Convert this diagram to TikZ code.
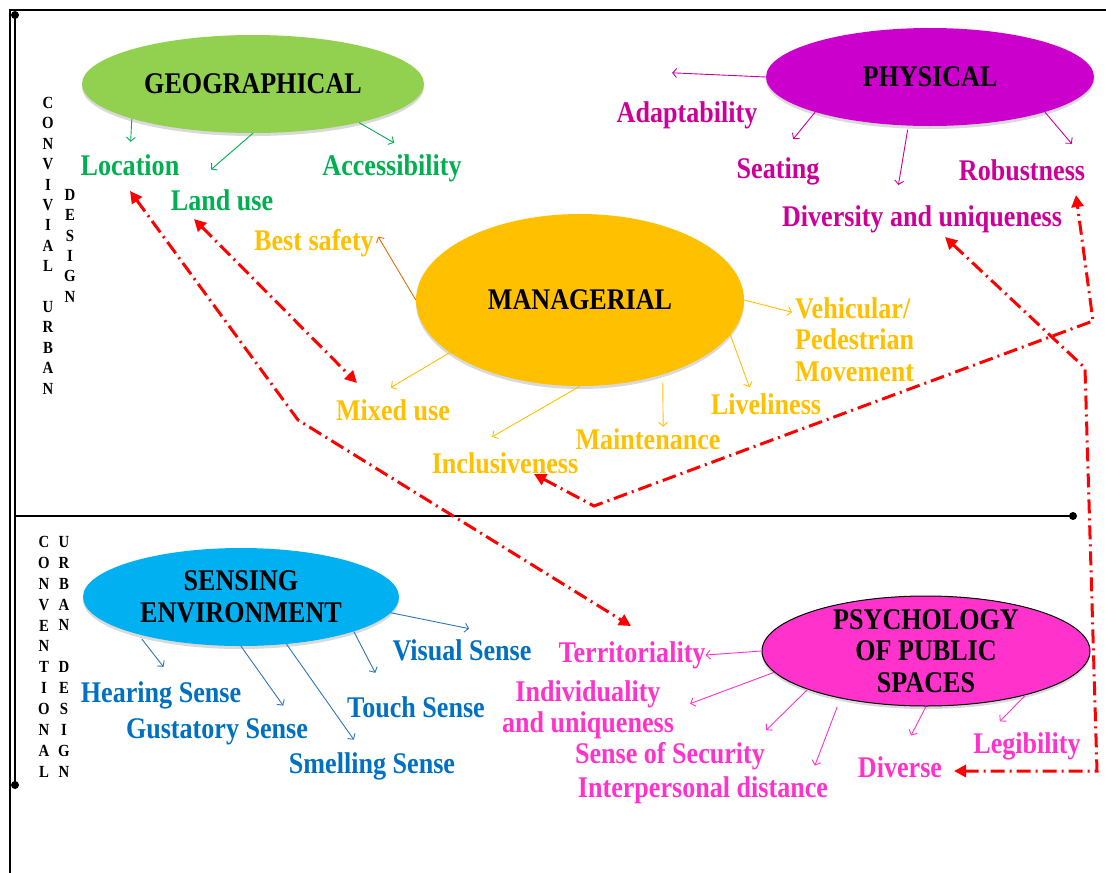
\documentclass[tikz,border=0pt]{standalone}
\usepackage{fontspec}
\setmainfont{Liberation Serif}[FakeStretch=0.87]
\usetikzlibrary{arrows.meta,shapes.geometric,shadows,positioning}
\definecolor{geogreen}{HTML}{92D050}
\definecolor{geotext}{HTML}{00B050}
\definecolor{physfill}{HTML}{CC00CC}
\definecolor{phystext}{HTML}{CC0099}
\definecolor{mangold}{HTML}{FFC000}
\definecolor{safeline}{HTML}{E46C0A}
\definecolor{sensfill}{HTML}{00B0F0}
\definecolor{senstext}{HTML}{0070C0}
\definecolor{sensline}{HTML}{2E75B6}
\definecolor{psychpink}{HTML}{FF33CC}
\definecolor{linkred}{HTML}{FF0000}
\newcommand{\bigbold}{\fontsize{30}{31.5}\selectfont\bfseries}
\tikzstyle{blob}=[ellipse,inner sep=0pt,align=center,font=\bigbold,
  drop shadow={shadow xshift=0pt,shadow yshift=-3pt,opacity=.3}]
\tikzstyle{lab}=[inner sep=0pt,text height=20pt,text depth=6pt,font=\bigbold]
\tikzstyle{multilab}=[inner sep=0pt,font=\bigbold]
\tikzstyle{geolab}=[lab,text=geotext]
\tikzstyle{physlab}=[lab,text=phystext]
\tikzstyle{manlab}=[lab,text=mangold]
\tikzstyle{senslab}=[lab,text=senstext]
\tikzstyle{psychlab}=[lab,text=psychpink]
\tikzstyle{branch}=[->,line width=.9pt]
\tikzstyle{link}=[linkred,line width=3pt,
  dash pattern=on 14pt off 5pt on 2pt off 5pt,
  {Triangle[length=12pt,width=12pt]}-{Triangle[length=12pt,width=12pt]}]
\tikzstyle{letters}=[inner sep=0pt,align=center,anchor=north,
  font=\fontsize{17}{20.4}\selectfont\bfseries]

\begin{document}
\begin{tikzpicture}[x=1pt,y=-1pt,>={Straight Barb[length=4pt,width=9pt]}]
  \useasboundingbox (0,0) rectangle (1106,873);

  % frame and split line
  \coordinate (frameBL) at (10,873);
  \coordinate (frameTL) at (10,10);
  \coordinate (frameTR) at (1106,10);
  \coordinate (axisTop) at (15,15);
  \coordinate (axisBot) at (15,785);
  \coordinate (splitL) at (15,516);
  \coordinate (splitR) at (1073,516);
  \draw[line width=2pt] (frameBL) -- (frameTL) -- (frameTR);
  \draw[line width=2.8pt] (axisTop) -- (axisBot);
  \draw[line width=2.8pt] (splitL) -- (splitR);
  \fill (axisTop) circle (4pt);
  \fill (axisBot) circle (4pt);
  \fill (splitR) circle (4pt);

  % side titles
  \node[letters] (convivial) at (48,97)
    {C\\O\\N\\V\\I\\V\\I\\A\\L\\[20.4pt]U\\R\\B\\A\\N};
  \node[letters] (convDesign) at (70,189) {D\\E\\S\\I\\G\\N};
  \node[letters,font=\fontsize{17}{20.9}\selectfont\bfseries]
    (conventional) at (44,536) {C\\O\\N\\V\\E\\N\\T\\I\\O\\N\\A\\L};
  \node[letters,font=\fontsize{17}{20.9}\selectfont\bfseries]
    (convUrban) at (64,536) {U\\R\\B\\A\\N\\[20.9pt]D\\E\\S\\I\\G\\N};

  % the five groups
  \node[blob,fill=geogreen,minimum width=342pt,minimum height=98pt]
    (geo) at (253,84) {GEOGRAPHICAL};
  \node[blob,fill=physfill,minimum width=328pt,minimum height=98pt]
    (phys) at (930,77) {PHYSICAL};
  \node[blob,fill=mangold,minimum width=328pt,minimum height=172pt]
    (man) at (580,300) {MANAGERIAL};
  \node[blob,fill=sensfill,minimum width=316pt,minimum height=98pt]
    (sens) at (241,597) {SENSING\\ENVIRONMENT};
  \node[blob,fill=psychpink,draw=black,line width=1pt,minimum width=328pt,
    minimum height=110pt,inner ysep=-5pt]
    (psych) at (926,651) {PSYCHOLOGY\\OF PUBLIC\\SPACES};

  % labels
  \node[geolab] (loc) at (130,168) {Location};
  \node[geolab] (land) at (222,203) {Land use};
  \node[geolab] (acc) at (392,168) {Accessibility};
  \node[physlab] (adapt) at (687,115) {Adaptability};
  \node[physlab] (seat) at (778,171) {Seating};
  \node[physlab] (rob) at (1022,173) {Robustness};
  \node[physlab] (div) at (922,219) {Diversity and uniqueness};
  \node[manlab] (safe) at (314,243) {Best safety};
  \node[multilab,text=mangold,align=left,anchor=north west]
    (veh) at (795,297) {Vehicular/\\Pedestrian\\Movement};
  \node[manlab] (mixed) at (393,413) {Mixed use};
  \node[manlab] (live) at (766,407) {Liveliness};
  \node[manlab] (maint) at (648,442) {Maintenance};
  \node[manlab] (incl) at (505,466) {Inclusiveness};
  \node[senslab] (visual) at (462,653) {Visual Sense};
  \node[senslab] (hear) at (161,695) {Hearing Sense};
  \node[senslab] (gust) at (217,731) {Gustatory Sense};
  \node[senslab] (touch) at (416,710) {Touch Sense};
  \node[senslab] (smell) at (372,766) {Smelling Sense};
  \node[psychlab] (terr) at (632,655) {Territoriality};
  \node[multilab,text=psychpink,align=center,anchor=north]
    (indiv) at (588,680) {Individuality\\and uniqueness};
  \node[psychlab] (secur) at (670,756) {Sense of Security};
  \node[psychlab] (inter) at (703,790) {Interpersonal distance};
  \node[psychlab] (diverse) at (900,770) {Diverse};
  \node[psychlab] (legib) at (1027,746) {Legibility};

  % thin arrows
  \draw[branch,geotext,shorten >=13pt] (geo.196) -- (loc.north);
  \draw[branch,geotext,shorten >=31pt] (geo.south) -- (land.159);
  \draw[branch,geotext,shorten >=24pt] (geo.340) -- (acc.30);
  \draw[branch,phystext] (phys.west) -- ([shift={(-15pt,29pt)}]adapt.north);
  \draw[branch,phystext,shorten >=24pt] (phys.197) -- (seat.north);
  \draw[branch,phystext,shorten <=4pt,shorten >=21pt] (phys.246) -- (div.154);
  \draw[branch,phystext,shorten >=21pt] (phys.343) -- (rob.north east);
  \draw[branch,safeline,shorten >=8pt] (man.west) -- (safe.north east);
  \draw[branch,mangold,shorten >=3pt] (man.east) -- ([yshift=-16pt]veh.north west);
  \draw[branch,mangold,shorten >=24pt] (man.202) -- (mixed.150);
  \draw[branch,mangold,shorten >=32pt] (man.south) -- (incl.162);
  \draw[branch,mangold,shorten <=8pt,shorten >=2pt] (man.318) -- (maint.41);
  \draw[branch,mangold,shorten >=7pt] (man.347) -- (live.137);
  \draw[branch,sensline,shorten >=56pt] (sens.354) -- (visual.12);
  \draw[branch,sensline,shorten <=6pt,shorten >=19pt] (sens.200) -- (hear.43);
  \draw[branch,sensline,shorten >=15pt] (sens.south) -- (gust.10);
  \draw[branch,sensline,shorten >=16pt] (sens.314) -- (smell.124);
  \draw[branch,sensline,shorten >=27pt] (sens.343) -- (touch.155);
  \draw[branch,psychpink] (psych.west) -- (terr.east);
  \draw[branch,psychpink,shorten >=17pt] (psych.188) -- (indiv.east);
  \draw[branch,psychpink,shorten >=18pt] (psych.198) -- (secur.9);
  \draw[branch,psychpink,shorten <=9pt,shorten >=12pt] (psych.209) -- (inter.7);
  \draw[branch,psychpink,shorten >=24pt] (psych.south) -- (diverse.north);
  \draw[branch,psychpink,shorten >=16pt] (psych.336) -- (legib.161);

  % red links between the groups
  \coordinate (locEnd) at (130,191);
  \coordinate (locBend) at (298,420);
  \coordinate (terrEnd) at (631,626);
  \coordinate (landEnd) at (194,219);
  \coordinate (mixedEnd) at (357,383);
  \coordinate (inclEnd) at (534,474);
  \coordinate (inclBend) at (594,506);
  \coordinate (robBend) at (1093,321);
  \coordinate (robEnd) at (1076,195);
  \coordinate (divEnd) at (945,237);
  \coordinate (divBend) at (1085,368);
  \coordinate (diverseBend) at (1097,771);
  \coordinate (diverseEnd) at (954,771);
  \draw[link] (locEnd) -- (locBend) -- (terrEnd);
  \draw[link] (landEnd) -- (mixedEnd);
  \draw[link] (inclEnd) -- (inclBend) -- (robBend) -- (robEnd);
  \draw[link] (divEnd) -- (divBend) -- (diverseBend) -- (diverseEnd);
\end{tikzpicture}
\end{document}
